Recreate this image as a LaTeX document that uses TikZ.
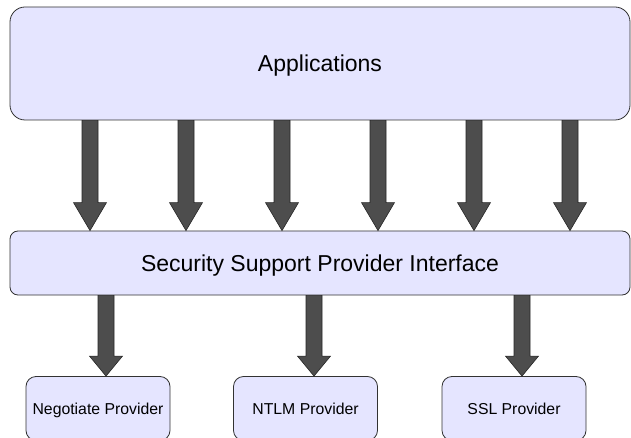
\documentclass[tikz,border=0pt]{standalone}
\usepackage{fontspec}
\setmainfont{Liberation Sans}
\usetikzlibrary{calc}
\definecolor{boxfill}{RGB}{229,229,255}
\definecolor{boxline}{RGB}{50,50,50}
\definecolor{arrfill}{RGB}{77,77,77}
\tikzset{
  box/.style={draw=boxline, fill=boxfill, line width=0.8pt, inner sep=0pt, anchor=center, text depth=0pt},
  bigbox/.style={box, font=\fontsize{23}{27}\selectfont, text height=16.5pt},
  smallbox/.style={box, rounded corners=10pt, minimum width=144pt, minimum height=64pt, font=\fontsize{15.8}{19}\selectfont, text height=11.3pt},
  fatarr/.style={draw=black!85, fill=arrfill, line width=0.6pt, line join=miter}
}
% #1 x position, #2 from node, #3 to node, #4 head length
\newcommand\fatarrow[4]{%
  \draw[fatarr] ({#1-8},0 |- #2.south) -- ($({#1-8},0 |- #3.north)+(0,-#4)$)
    -- ($({#1-16.5},0 |- #3.north)+(0,-#4)$) -- ({#1},0 |- #3.north)
    -- ($({#1+16.5},0 |- #3.north)+(0,-#4)$) -- ($({#1+8},0 |- #3.north)+(0,-#4)$)
    -- ({#1+8},0 |- #2.south) -- cycle;}
\begin{document}
\begin{tikzpicture}[x=1pt, y=-1pt]
\useasboundingbox (0,0) rectangle (631,438);
\clip (0,0) rectangle (631,438);
\node[bigbox, rounded corners=15pt, minimum width=620pt, minimum height=113pt] (app) at (320,63.5) {Applications};
\node[bigbox, rounded corners=8pt, minimum width=620pt, minimum height=64pt] (sspi) at (320,263) {Security Support Provider Interface};
\node[smallbox] (nego) at (98,408.5) {Negotiate Provider};
\node[smallbox] (ntlm) at (305.5,408.5) {NTLM Provider};
\node[smallbox] (ssl) at (514,408.5) {SSL Provider};
\foreach \x in {90,186,282,378,474,570} {\fatarrow{\x}{app}{sspi}{28}}
\fatarrow{106}{sspi}{nego}{20}
\fatarrow{314}{sspi}{ntlm}{20}
\fatarrow{522}{sspi}{ssl}{20}
\end{tikzpicture}
\end{document}
